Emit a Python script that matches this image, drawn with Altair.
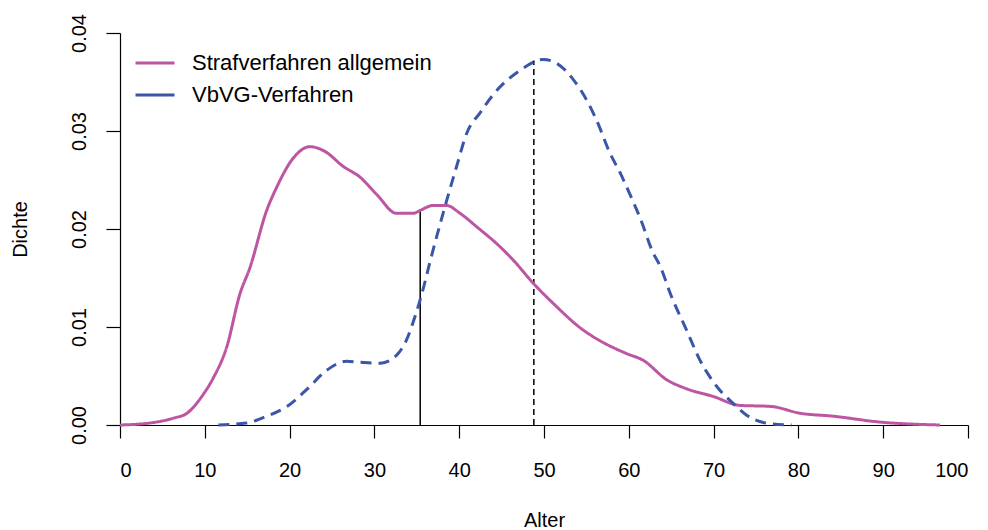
import altair as alt
import pandas as pd

# Strafverfahren allgemein (density by age)
straf_x = [0, 3.5, 6.3, 7.9, 9.8, 11.0, 12.6, 14.15, 15.3, 17.3, 18.5, 20.4, 22.4, 24.2, 26.3, 28.3,
           30.3, 32.6, 34.6, 35.4, 36.9, 38.5, 40.1, 42.1, 44.8, 46.4, 48.7, 51.1, 54.6, 56.2, 59.7,
           61.7, 64.5, 66.8, 70.0, 73.1, 76.7, 80.2, 84.1, 89.6, 96.7]
straf_y = [0.0, 0.0002, 0.0007, 0.0012, 0.0031, 0.0048, 0.0080, 0.0134, 0.0160, 0.0219, 0.0243,
           0.0272, 0.0284, 0.0279, 0.0264, 0.0253, 0.0235, 0.0216, 0.0216, 0.0219, 0.0224, 0.0224,
           0.0216, 0.0202, 0.0182, 0.0168, 0.0145, 0.0124, 0.0097, 0.0088, 0.0073, 0.0066, 0.0046,
           0.0037, 0.0029, 0.0020, 0.0019, 0.0012, 0.0009, 0.0003, 0.0]

# VbVG-Verfahren
vbvg_x = [11.6, 14.9, 17.3, 19.7, 22.0, 24.4, 26.7, 28.3, 30.7, 32.6, 33.8, 34.8, 35.6, 36.6, 38.1,
          39.7, 40.9, 42.5, 44.0, 47.2, 49.9, 51.5, 53.5, 55.0, 56.2, 57.8, 59.0, 60.1, 61.3, 62.9,
          63.7, 64.9, 66.8, 68.4, 70.4, 72.3, 73.9, 76.2, 79.2]
vbvg_y = [0.0, 0.0002, 0.0009, 0.0019, 0.0036, 0.0056, 0.0065, 0.0064, 0.0063, 0.0071, 0.0087,
          0.0111, 0.0134, 0.0168, 0.0216, 0.0264, 0.0298, 0.0319, 0.0337, 0.0362, 0.0373, 0.0369,
          0.0352, 0.0332, 0.0311, 0.0277, 0.0257, 0.0236, 0.0212, 0.0175, 0.0162, 0.0134, 0.0097,
          0.0066, 0.0039, 0.0022, 0.0010, 0.0002, 0.0]

series = ["Strafverfahren allgemein", "VbVG-Verfahren"]
colors = ["#BD55A3", "#3A56A8"]

# medians / marker lines
mark_x = [35.4, 48.8]
mark_top = [0.0219, 0.0372]

rows = []
for i, (x, y) in enumerate(zip(straf_x, straf_y)):
    rows.append({"Alter": x, "Dichte": y, "Gruppe": series[0], "order": i})
for i, (x, y) in enumerate(zip(vbvg_x, vbvg_y)):
    rows.append({"Alter": x, "Dichte": y, "Gruppe": series[1], "order": i})
df = pd.DataFrame(rows)

vdf = pd.DataFrame({"x": mark_x, "y0": [0, 0], "y1": mark_top, "kind": ["solid", "dashed"]})

FONT = "Liberation Sans"

xscale = alt.Scale(domain=[0, 100], nice=False, zero=False)
yscale = alt.Scale(domain=[0, 0.04], nice=False)

lines = alt.Chart(df).mark_line(strokeWidth=3, interpolate="monotone").encode(
    x=alt.X("Alter:Q", scale=xscale,
            axis=alt.Axis(title="Alter", values=list(range(0, 101, 10)), format="d",
                          tickSize=13, labelPadding=22, titlePadding=30, grid=False)),
    y=alt.Y("Dichte:Q", scale=yscale,
            axis=alt.Axis(title="Dichte", values=[0, 0.01, 0.02, 0.03, 0.04], format=".2f",
                          tickSize=14, labelAngle=-90, labelAlign="center", labelBaseline="bottom",
                          labelPadding=17, titlePadding=39, grid=False)),
    color=alt.Color("Gruppe:N", scale=alt.Scale(domain=series, range=colors),
                    legend=alt.Legend(title=None, orient="none", legendX=14, legendY=9,
                                      symbolType="stroke", symbolSize=1521, symbolStrokeWidth=3,
                                      labelFontSize=22, labelFont=FONT, labelOffset=16,
                                      labelLimit=600, rowPadding=0, padding=0,
                                      labelColor="#000000")),
    strokeDash=alt.StrokeDash("Gruppe:N", scale=alt.Scale(domain=series, range=[[1, 0], [11, 7]]),
                              legend=None),
    detail="Gruppe:N",
    order="order:Q",
)

vlines = alt.Chart(vdf).mark_rule(color="#000000", strokeWidth=1.5).encode(
    x=alt.X("x:Q", scale=xscale),
    y=alt.Y("y0:Q", scale=yscale),
    y2="y1:Q",
    strokeDash=alt.StrokeDash("kind:N", scale=alt.Scale(domain=["solid", "dashed"], range=[[1, 0], [6, 4]]),
                              legend=None),
)

chart = alt.layer(vlines, lines).resolve_scale(strokeDash="independent").properties(
    width=848, height=392,
    autosize=alt.AutoSizeParams(type="none"),
    padding={"left": 112, "top": 25, "right": 12, "bottom": 105},
).configure(background="white").configure_view(stroke=None).configure_axis(
    labelFont=FONT, titleFont=FONT, labelFontSize=20, titleFontSize=20,
    labelColor="#000000", titleColor="#000000", domainColor="#000000", tickColor="#000000",
    titleFontWeight="normal", domainWidth=1.2, tickWidth=1.2,
)

chart.save("out.html", embed_options={"renderer": "svg", "actions": False})
